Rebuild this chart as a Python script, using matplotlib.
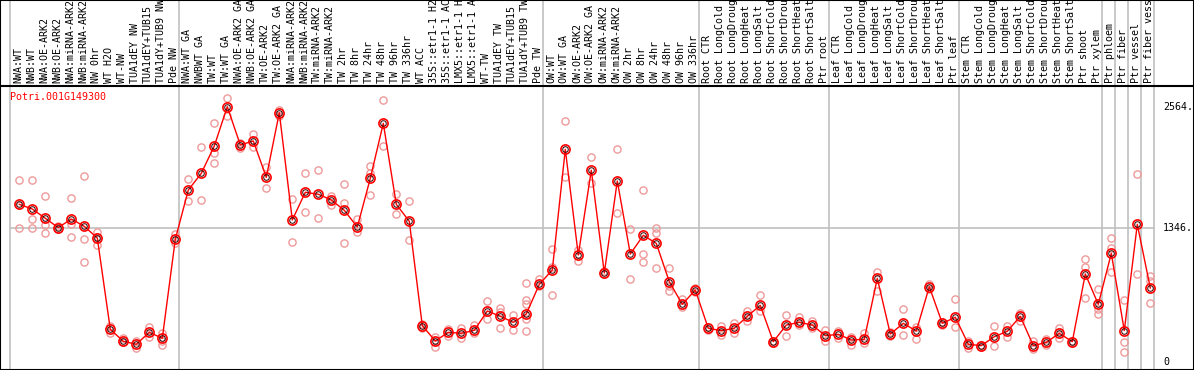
import matplotlib
matplotlib.use("Agg")
import matplotlib.pyplot as plt
from matplotlib.transforms import blended_transform_factory
import numpy as np

gene = "Potri.001G149300"

# sample groups (header labels, left to right)
grp_nw = ['NWA:WT', 'NWB:WT', 'NWA:OE-ARK2', 'NWB:OE-ARK2', 'NWA:miRNA-ARK2',
          'NWB:miRNA-ARK2', 'NW 0hr', 'WT H2O', 'WT-NW', 'TUA1dEY NW',
          'TUA1dEY+TUB15', 'TUA1dY+TUB9 NW', 'Pde NW']
grp_tw = ['NWA:WT GA', 'NWBWT GA', 'TW:WT', 'TW:WT GA', 'NWA:OE-ARK2 GA',
          'NWB:OE-ARK2 GA', 'TW:OE-ARK2', 'TW:OE-ARK2 GA', 'NWA:miRNA-ARK2',
          'NWB:miRNA-ARK2', 'TW:miRNA-ARK2', 'TW:miRNA-ARK2', 'TW 2hr', 'TW 8hr',
          'TW 24hr', 'TW 48hr', 'TW 96hr', 'TW 336hr', 'WT ACC',
          '35S::etr1-1 H2O', '35S::etr1-1 ACC', 'LMX5::etr1-1 H2O',
          'LMX5::etr1-1 ACC', 'WT-TW', 'TUA1dEY TW', 'TUA1dEY+TUB15',
          'TUA1dY+TUB9 TW', 'Pde TW']
grp_ow = ['OW:WT', 'OW:WT GA', 'OW:OE-ARK2', 'OW:OE-ARK2 GA', 'OW:miRNA-ARK2',
          'OW:miRNA-ARK2', 'OW 2hr', 'OW 8hr', 'OW 24hr', 'OW 48hr', 'OW 96hr',
          'OW 336hr']
stress = ['CTR', 'LongCold', 'LongDrought', 'LongHeat', 'LongSalt',
          'ShortCold', 'ShortDrought', 'ShortHeat', 'ShortSalt']
grp_root = ['Root ' + s for s in stress] + ['Ptr root']
grp_leaf = ['Leaf ' + s for s in stress] + ['Ptr leaf']
grp_stem = ['Stem ' + s for s in stress] + ['Ptr shoot', 'Ptr xylem']
grp_tissue = [['Ptr phloem'], ['Ptr fiber'], ['Ptr vessel'], ['Ptr fiber vessel']]

groups = [grp_nw, grp_tw, grp_ow, grp_root, grp_leaf, grp_stem] + grp_tissue

# mean expression per sample
means = [1583, 1536, 1443, 1349, 1436, 1362, 1245, 328, 208, 178, 298, 238, 1232,
         1727, 1894, 2169, 2564, 2179, 2219, 1854, 2503, 1426, 1704, 1684, 1627,
         1523, 1355, 1844, 2396, 1583, 1412, 365, 211, 298, 288, 318, 512, 459,
         398, 482, 780,
         924, 2135, 1074, 1925, 894, 1817, 1084, 1272, 1191, 806, 579, 723,
         338, 315, 338, 459, 569, 204, 371, 398, 371, 264,
         278, 221, 228, 840, 281, 388, 311, 756, 388, 449,
         178, 164, 254, 308, 459, 164, 197, 288, 204, 884, 579,
         1091, 315, 1382, 743]

# individual replicates per sample
reps = [[1827, 1580, 1349], [1827, 1436, 1349], [1663, 1379, 1292], [1365, 1340],
        [1643, 1386, 1252], [1864, 1232, 1004], [1309, 1260, 1175], [361, 288],
        [241, 200], [208, 144], [351, 248], [294, 215, 171], [1285, 1192],
        [1837, 1613], [2159, 1627], [2400, 2102, 1995], [2651, 2473],
        [2200, 2150], [2289, 2155], [1961, 1744], [2530, 2470], [1637, 1202],
        [1894, 1503], [1925, 1446], [1667, 1576], [1784, 1593, 1191],
        [1436, 1309], [1968, 1900, 1673], [2627, 2165], [1687, 1483],
        [1613, 1222], [385, 345], [254, 154], [328, 261], [345, 238],
        [371, 288], [612, 432], [545, 505, 341], [469, 321],
        [790, 622, 582, 429, 311], [830, 760],
        [1135, 957, 673], [2416, 1854], [1124, 1017], [2055, 1794], [910, 880],
        [2135, 1493], [1332, 830], [1727, 1084, 1001], [1349, 1299, 940],
        [940, 763, 713], [629, 549], [740, 705],
        [350, 325], [361, 271], [395, 294], [515, 415], [673, 512], [214, 194],
        [472, 261], [449, 371], [412, 338], [321, 214],
        [308, 244], [254, 171], [294, 188], [907, 716], [300, 265], [529, 268],
        [348, 228], [783, 735], [400, 375], [629, 355],
        [214, 137], [175, 155], [358, 164], [361, 254], [495, 412], [214, 127],
        [228, 171], [345, 238], [215, 195], [1031, 957, 639], [730, 530, 482],
        [1242, 1141, 907], [622, 204, 97], [1884, 880], [863, 810, 589]]

ytick_vals = [2564, 1346, 0]
ytick_text = ['2564.', '1346.', '0']

labels = [l for g in groups for l in g]
x = np.arange(len(labels))

W, H = 1194, 370
fig = plt.figure(figsize=(W / 100, H / 100), dpi=100)
ax = fig.add_axes([0, 0, 1, 1])

# pixel -> data mapping (13 px per sample, 0.0996 px per unit)
px0, step = 19.3, 13.0
y0, scale = 362.0, 0.0996
ax.set_xlim((0 - px0) / step, (W - px0) / step)
ax.set_ylim((y0 - H) / scale, y0 / scale)
for s in ax.spines.values():
    s.set_linewidth(1.5)
    s.set_color('black')
ax.set_xticks([])
ax.set_yticks([])

mono = 'DejaVu Sans Mono'
fs = 7.2
header_v = (y0 - 86) / scale

# group separators
bounds = np.cumsum([0] + [len(g) for g in groups])
trans = blended_transform_factory(ax.transData, ax.transAxes)
for b in bounds:
    ax.plot([b - 0.7, b - 0.7], [0, 1], color='#c0c0c0', lw=1.2,
            transform=trans, zorder=1)
ax.plot([bounds[0] - 0.7, bounds[-1] - 0.7], [ytick_vals[1]] * 2,
        color='#c0c0c0', lw=1.2, zorder=1)
ax.axhline(header_v, color='black', lw=1.5, zorder=2)

# header labels
for xi, lab in zip(x, labels):
    ax.text(xi - 0.1, (y0 - 83) / scale, lab, rotation=90, ha='center',
            va='bottom', fontsize=fs, family=mono, color='black')

# replicates
for xi, r in zip(x, reps):
    ax.plot([xi] * len(r), r, 'o', ms=5.2, mfc='none', mec='#ee9a9a',
            mew=1.0, zorder=3)

# mean line
ax.plot(x, means, '-', color='#ff0000', lw=1.0, zorder=4)
ax.plot(x, means, 'o', ms=6.6, mfc='none', mec='#ff0000', mew=1.2, zorder=5)
ax.plot(x, means, 'o', ms=4.0, mfc='none', mec='#300000', mew=0.7, zorder=6)

ax.text((10 - px0) / step, (y0 - 97) / scale, gene, color='#ff0000',
        fontsize=fs, family=mono, ha='left', va='center')

for v, t in zip(ytick_vals, ytick_text):
    ax.text((1163 - px0) / step, v, t, fontsize=fs, family=mono,
            ha='left', va='center', color='black')

fig.savefig('out.png', dpi=100)
